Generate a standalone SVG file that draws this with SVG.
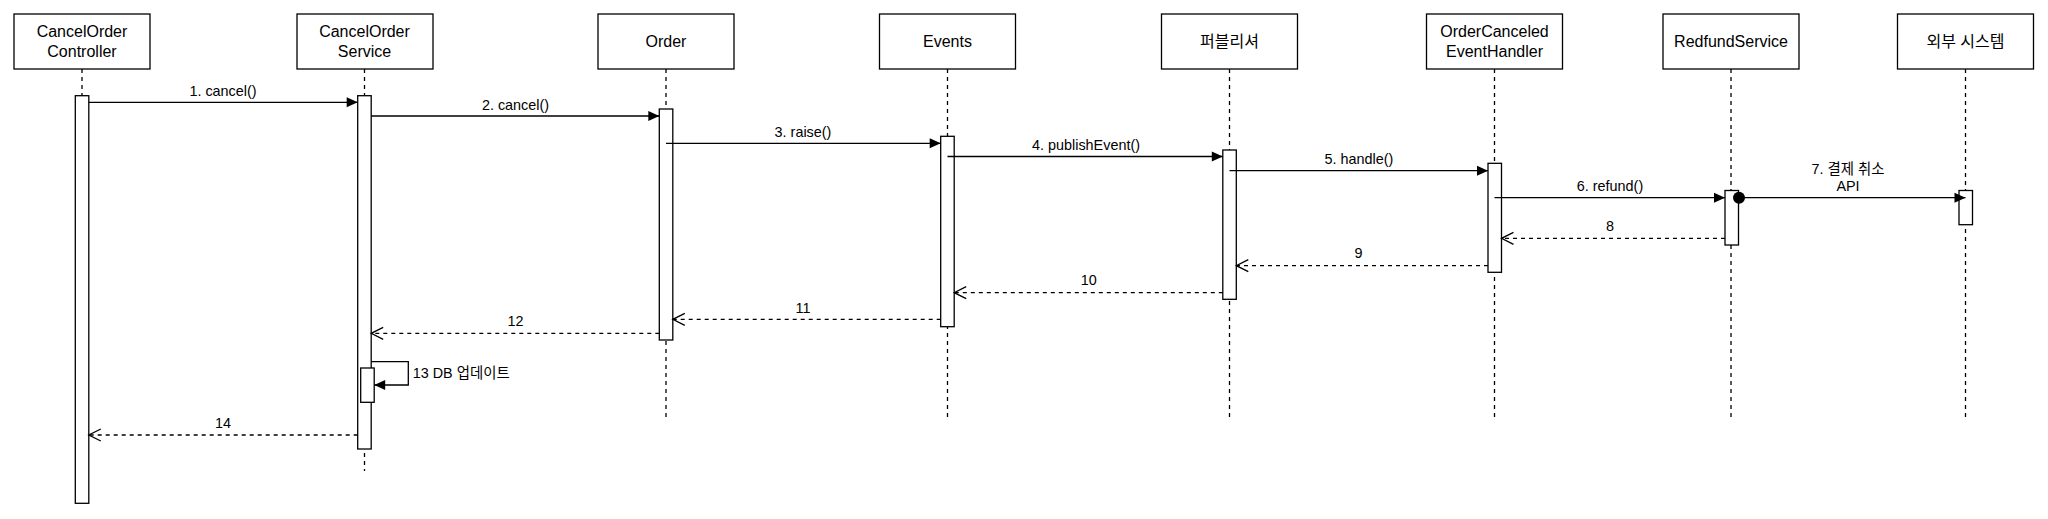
<svg xmlns="http://www.w3.org/2000/svg" width="2048" height="519" viewBox="0 0 2048 519">
<style>
.box{fill:#fff;stroke:#000;stroke-width:1.3}
.bar{fill:#fff;stroke:#000;stroke-width:1.3}
.life{stroke:#000;stroke-width:1.3;stroke-dasharray:4 4;fill:none}
.msg{stroke:#000;stroke-width:1.3;fill:none}
.call{marker-end:url(#block)}
.ret{stroke-dasharray:4 4;marker-end:url(#open)}
.t{font-family:"Liberation Sans",Arial,"Noto Sans CJK KR",sans-serif;fill:#000;text-anchor:middle}
.nl{font-size:16px}
.ml{font-size:14.4px}
</style>
<defs>
<marker id="block" markerUnits="userSpaceOnUse" markerWidth="12" markerHeight="11" refX="11" refY="5" orient="auto" overflow="visible">
<path d="M0,0 L11,5 L0,10 z" fill="#000"/>
</marker>
<marker id="open" markerUnits="userSpaceOnUse" markerWidth="14" markerHeight="14" refX="12" refY="6" orient="auto" overflow="visible">
<path d="M0,0 L12,6 L0,12" fill="none" stroke="#000" stroke-width="1.3"/>
</marker>
</defs>
<rect width="2048" height="519" fill="#fff"/>

<g id="lifelines">
<line class="life" x1="82" y1="69" x2="82" y2="96"/>
<line class="life" x1="364.5" y1="69" x2="364.5" y2="471"/>
<line class="life" x1="666" y1="69" x2="666" y2="421"/>
<line class="life" x1="947.5" y1="69" x2="947.5" y2="421"/>
<line class="life" x1="1229.5" y1="69" x2="1229.5" y2="421"/>
<line class="life" x1="1494.5" y1="69" x2="1494.5" y2="421"/>
<line class="life" x1="1731" y1="69" x2="1731" y2="421"/>
<line class="life" x1="1965.5" y1="69" x2="1965.5" y2="421"/>
</g>

<g id="controller">
<rect class="box" x="14" y="14" width="136" height="55"/>
<text class="t nl" x="82" y="37.3">CancelOrder</text>
<text class="t nl" x="82" y="57.3">Controller</text>
<rect class="bar" x="75.3" y="95.7" width="13.5" height="407.6"/>
</g>

<g id="service">
<rect class="box" x="297" y="14" width="136" height="55"/>
<text class="t nl" x="364.5" y="37.3">CancelOrder</text>
<text class="t nl" x="364.5" y="57.3">Service</text>
<rect class="bar" x="357.7" y="95.7" width="13.5" height="353.3"/>
<rect class="bar" x="360.7" y="368" width="13.5" height="34.3"/>
</g>

<g id="order">
<rect class="box" x="598" y="14" width="136" height="55"/>
<text class="t nl" x="666" y="47">Order</text>
<rect class="bar" x="659.3" y="109" width="13.5" height="231"/>
</g>

<g id="events">
<rect class="box" x="879.5" y="14" width="136" height="55"/>
<text class="t nl" x="947.5" y="47">Events</text>
<rect class="bar" x="940.7" y="136.3" width="13.5" height="190.4"/>
</g>

<g id="publisher">
<rect class="box" x="1161.5" y="14" width="136" height="55"/>
<text class="t nl" x="1229.5" y="47">퍼블리셔</text>
<rect class="bar" x="1222.8" y="150" width="13.5" height="149.3"/>
</g>

<g id="handler">
<rect class="box" x="1426.5" y="14" width="136" height="55"/>
<text class="t nl" x="1494.5" y="37.3">OrderCanceled</text>
<text class="t nl" x="1494.5" y="57.3">EventHandler</text>
<rect class="bar" x="1488" y="163.3" width="13.5" height="109"/>
</g>

<g id="refund">
<rect class="box" x="1663" y="14" width="136" height="55"/>
<text class="t nl" x="1731" y="47">RedfundService</text>
<rect class="bar" x="1725" y="190.5" width="13.5" height="54.5"/>
</g>

<g id="external">
<rect class="box" x="1897.5" y="14" width="136" height="55"/>
<text class="t nl" x="1965.5" y="47">외부 시스템</text>
<rect class="bar" x="1959" y="190.5" width="13.5" height="34.2"/>
</g>

<g id="connectors">
<path class="msg call" d="M88.8,102.3 H357.7"/>
<path class="msg call" d="M371.2,116 H659.3"/>
<path class="msg call" d="M666,143.3 H940.7"/>
<path class="msg call" d="M947.5,156.5 H1222.8"/>
<path class="msg call" d="M1229.5,170.7 H1488"/>
<path class="msg call" d="M1494.5,197.7 H1725"/>
<path class="msg call" d="M1739,197.7 H1965.5"/>
<circle cx="1739" cy="197.7" r="6" fill="#000"/>
<path class="msg ret" d="M1725,238.3 H1501.5"/>
<path class="msg ret" d="M1488,265.7 H1236.3"/>
<path class="msg ret" d="M1222.8,292.7 H954.2"/>
<path class="msg ret" d="M940.7,319.3 H672.8"/>
<path class="msg ret" d="M659.3,333.3 H371.2"/>
<path class="msg call" d="M371.2,361.7 H408.3 V385 H374.2"/>
<path class="msg ret" d="M357.7,435 H88.8"/>
</g>

<g id="labels">
<text class="t ml" x="223" y="95.8">1. cancel()</text>
<text class="t ml" x="515.5" y="109.5">2. cancel()</text>
<text class="t ml" x="803" y="136.8">3. raise()</text>
<text class="t ml" x="1086" y="150">4. publishEvent()</text>
<text class="t ml" x="1359" y="164.2">5. handle()</text>
<text class="t ml" x="1610" y="191">6. refund()</text>
<text class="t ml" x="1848" y="173.5">7. 결제 취소</text>
<text class="t ml" x="1848" y="191">API</text>
<text class="t ml" x="1610" y="231">8</text>
<text class="t ml" x="1358.5" y="258">9</text>
<text class="t ml" x="1088.8" y="285">10</text>
<text class="t ml" x="803" y="312.5">11</text>
<text class="t ml" x="515.6" y="326">12</text>
<text class="t ml" x="412.7" y="377.5" style="text-anchor:start">13 DB 업데이트</text>
<text class="t ml" x="223" y="428">14</text>
</g>
</svg>
